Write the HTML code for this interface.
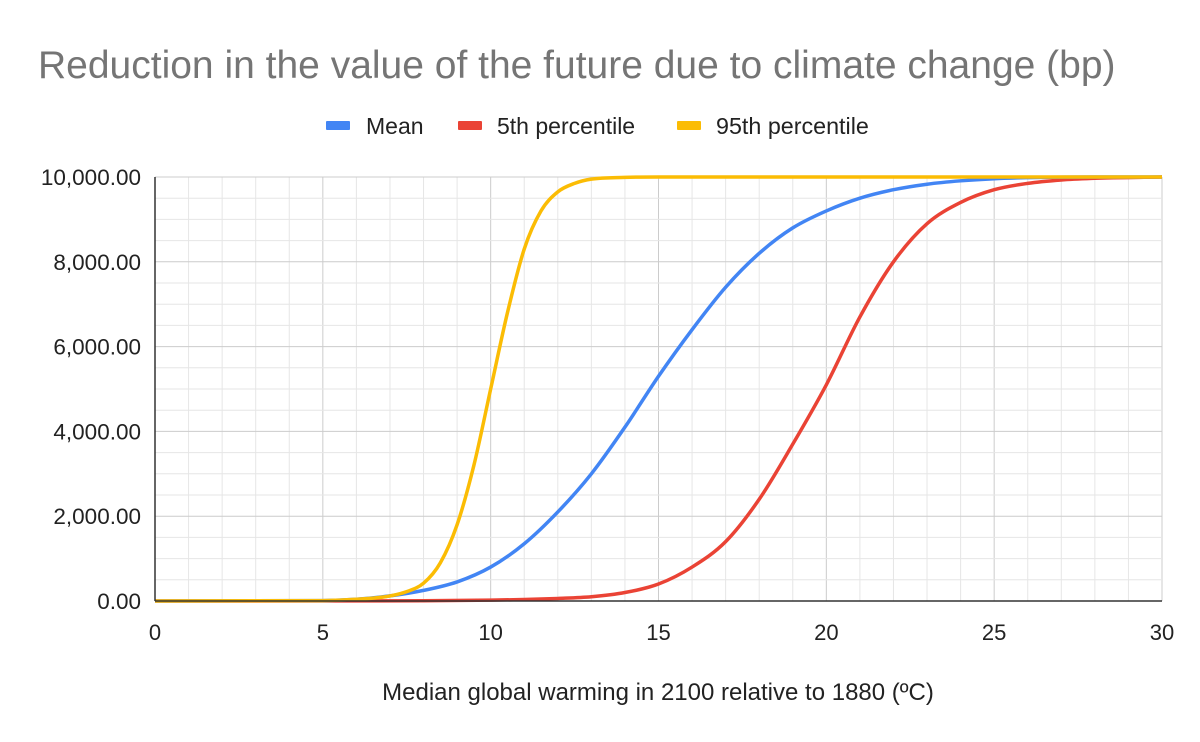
<!DOCTYPE html>
<html><head><meta charset="utf-8"><style>
body{margin:0;background:#fff;}
svg{display:block;font-family:"Liberation Sans",Arial,sans-serif;}
</style></head><body>
<svg id="chart" width="1200" height="742">
<rect width="1200" height="742" fill="#fff"/>
<text x="38" y="78" font-size="39" fill="#757575">Reduction in the value of the future due to climate change (bp)</text>
<g>
 <g><rect x="326" y="121" width="24" height="9" rx="1" fill="#4285f4"/><text x="366" y="134" font-size="23" fill="#222">Mean</text></g>
 <g><rect x="458" y="121" width="24" height="9" rx="1" fill="#ea4335"/><text x="497" y="134" font-size="23" fill="#222">5th percentile</text></g>
 <g><rect x="677" y="121" width="24" height="9" rx="1" fill="#fbbc04"/><text x="716" y="134" font-size="23.3" fill="#222">95th percentile</text></g>
</g>
<g id="grid"></g>
<g id="series"></g>
<g id="axes"></g>
<text x="658" y="700" font-size="24" fill="#222" text-anchor="middle">Median global warming in 2100 relative to 1880 (ºC)</text>
</svg>
<script>
const yTicks=[0,2000,4000,6000,8000,10000];
const yTickLabels=["0.00","2,000.00","4,000.00","6,000.00","8,000.00","10,000.00"];
const xTicks=[0,5,10,15,20,25,30];
const meanX=[0,5,6,7,8,9,10,11,12,13,14,15,16,17,18,19,20,21,22,23,24,25,26,28,30];
const meanY=[0,10,40,120,250,450,800,1350,2100,3000,4100,5300,6400,7400,8200,8800,9200,9500,9700,9830,9910,9960,9985,10000,10000];
const p5X=[0,8,10,11,12,13,14,15,16,17,18,19,20,21,22,23,24,25,26,27,28,30];
const p5Y=[0,5,20,35,60,100,200,400,800,1400,2400,3700,5100,6700,8000,8900,9400,9700,9850,9930,9970,10000];
const p95X=[0,5,6,7,7.5,8,8.5,9,9.5,10,10.5,11,11.5,12,12.5,13,14,15,30];
const p95Y=[0,10,40,120,220,420,900,1800,3200,5000,6800,8300,9200,9650,9850,9950,9990,10000,10000];
const X0=155,X1=1162,Y0=601,Y1=177;
const sx=v=>X0+(X1-X0)*v/30, sy=v=>Y0-(Y0-Y1)*v/10000;
const NS="http://www.w3.org/2000/svg";
function mk(t,a,p){const e=document.createElementNS(NS,t);for(const k in a)e.setAttribute(k,a[k]);p.appendChild(e);return e;}
const grid=document.getElementById('grid'),axes=document.getElementById('axes'),ser=document.getElementById('series');
for(let v=0;v<=30;v++){const l=mk('line',{x1:sx(v),x2:sx(v),y1:Y1,y2:Y0,stroke:v%5?'#e6e6e6':'#cccccc','stroke-width':1},grid);

}
for(let v=0;v<=10000;v+=500){const l=mk('line',{x1:X0,x2:X1,y1:sy(v),y2:sy(v),stroke:v%2000?'#e6e6e6':'#cccccc','stroke-width':1},grid);

}
yTicks.forEach((v,i)=>{const t=mk('text',{x:141,y:sy(v)+8,'font-size':22.5,fill:'#222','text-anchor':'end'},axes);t.textContent=yTickLabels[i];

});
xTicks.forEach(v=>{const t=mk('text',{x:sx(v),y:640,'font-size':22,fill:'#222','text-anchor':'middle'},axes);t.textContent=v;

});
const ya=mk('line',{x1:X0,x2:X0,y1:Y1,y2:Y0,stroke:'#333','stroke-width':1.5},axes);


const xa=mk('line',{x1:X0,x2:X1,y1:Y0,y2:Y0,stroke:'#333','stroke-width':1.5},axes);


function monoPath(xs,ys){
 const n=xs.length,px=xs.map(sx),py=ys.map(sy),d=[],m=[];
 for(let i=0;i<n-1;i++)d.push((py[i+1]-py[i])/(px[i+1]-px[i]));
 m[0]=d[0];m[n-1]=d[n-2];
 for(let i=1;i<n-1;i++){
  if(d[i-1]*d[i]<=0){m[i]=0;continue;}
  const h0=px[i]-px[i-1],h1=px[i+1]-px[i];
  let s=(d[i-1]*h1+d[i]*h0)/(h0+h1);
  const lim=3*Math.min(Math.abs(d[i-1]),Math.abs(d[i]));
  if(Math.abs(s)>lim)s=Math.sign(s)*lim;
  m[i]=s;}
 let s=`M${px[0]},${py[0]}`;
 for(let i=0;i<n-1;i++){const h=px[i+1]-px[i];s+=`C${px[i]+h/3},${py[i]+m[i]*h/3} ${px[i+1]-h/3},${py[i+1]-m[i+1]*h/3} ${px[i+1]},${py[i+1]}`;}
 return s;}
[[p5X,p5Y,'#ea4335','series-5th-percentile'],[meanX,meanY,'#4285f4','series-mean'],[p95X,p95Y,'#fbbc04','series-95th-percentile']].forEach(([xs,ys,c,n])=>{
 const p=mk('path',{d:monoPath(xs,ys),fill:'none',stroke:c,'stroke-width':3.5,'stroke-linejoin':'round'},ser);
 
 });
</script>
</body></html>
